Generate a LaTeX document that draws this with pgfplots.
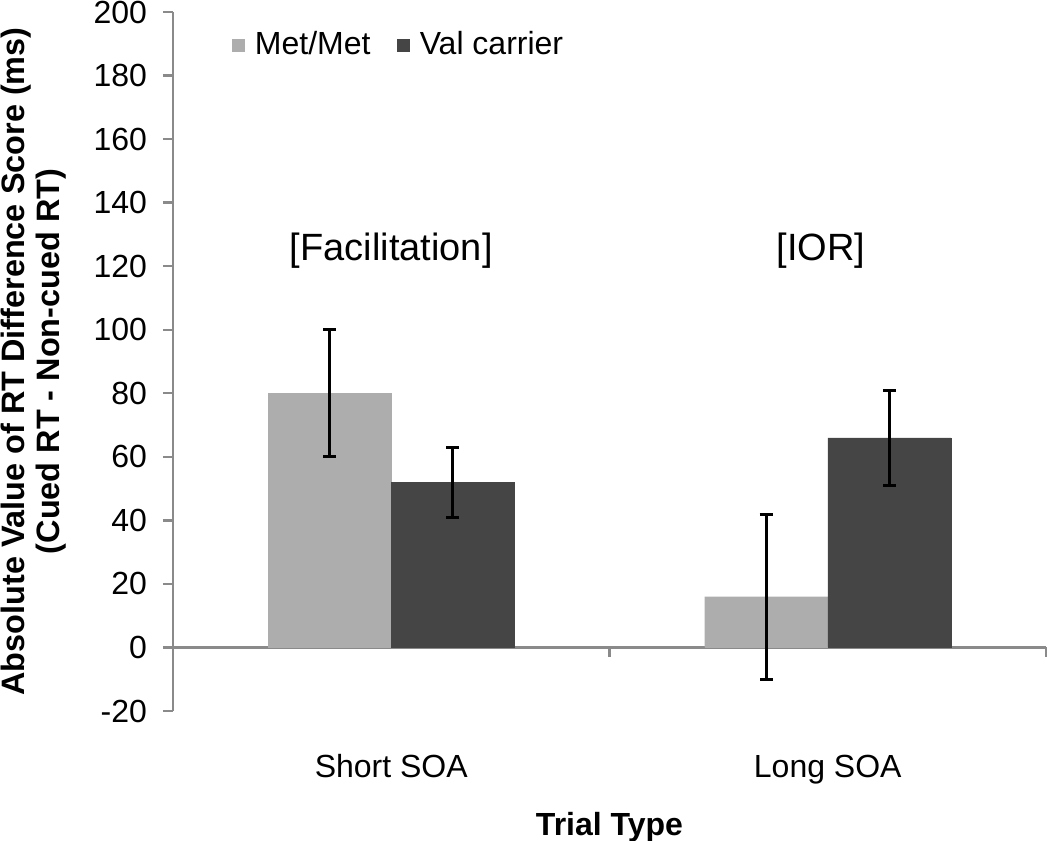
\documentclass[border=0pt]{standalone}
\usepackage{pgfplots}
\pgfplotsset{compat=1.18}
\usepackage{fontspec}
\setmainfont{Liberation Sans}
\definecolor{metc}{HTML}{ADADAD}
\definecolor{valc}{HTML}{454545}
\definecolor{axc}{HTML}{8A8A8A}
\begin{document}
\begin{tikzpicture}
\path[use as bounding box] (-86.5pt,-65pt) rectangle (438.5pt,355.5pt);
\begin{axis}[
  scale only axis, width=436.5pt, height=349.5pt,
  xmin=-0.5, xmax=1.5, ymin=-20, ymax=200,
  ytick={-20,0,...,200},
  xtick={0,1}, xticklabels={Short SOA, Long SOA},
  axis y line*=left, axis x line*=bottom,
  x axis line style={draw=none},
  y axis line style={draw=axc, line width=1.2pt, -},
  xtick style={draw=none},
  ytick style={draw=axc, line width=1.2pt},
  major tick length=5pt, tick align=outside,
  /pgf/number format/assume math mode=true,
  tick label style={font=\fontsize{16}{19}\selectfont},
  yticklabel style={xshift=-4.5pt},
  xticklabel style={anchor=base, yshift=-28pt},
  xlabel={Trial Type},
  xlabel style={at={(axis description cs:0.5,-0.166)}, anchor=center, font=\bfseries\fontsize{16}{19}\selectfont},
  ylabel={Absolute Value of RT Difference Score (ms)\\(Cued RT - Non-cued RT)},
  ylabel style={at={(axis description cs:-0.160,0.5)}, anchor=center, align=center, font=\bfseries\fontsize{16.2}{17.5}\selectfont},
  ybar=0pt, bar width=0.282,
  clip=false,
  legend style={draw=none, fill=none, at={(0.06,0.953)}, anchor=west, legend columns=2,
    font=\fontsize{16}{19}\selectfont,
    /tikz/every odd column/.append style={column sep=3.5pt},
    /tikz/every even column/.append style={column sep=11pt}},
  legend image code/.code={\fill[#1] (0pt,-3pt) rectangle (6pt,3pt);},
  error bars/error bar style={black, line width=1.5pt},
  error bars/error mark options={draw=black, solid, line width=1.5pt, mark size=3.25pt, rotate=90},
]
\draw[axc, line width=1.2pt] (axis cs:-0.5,0) -- (axis cs:1.5,0);
\draw[axc, line width=1.2pt] (axis cs:0.5,0) -- ++(0pt,-5pt);
\draw[axc, line width=1.2pt] (axis cs:1.5,0) -- ++(0pt,-5pt);
\addplot[fill=metc, draw=metc, line width=0.1pt, error bars/.cd, y dir=both, y explicit]
  table[x=x, y=y, y error=e] {
x y e
0 80 20
1 16 26
};
\addplot[fill=valc, draw=valc, line width=0.1pt, error bars/.cd, y dir=both, y explicit]
  table[x=x, y=y, y error=e] {
x y e
0 52 11
1 66 15
};
\legend{Met/Met, Val carrier}
\node[font=\fontsize{19}{22}\selectfont] at (axis cs:0.0,125) {[Facilitation]};
\node[font=\fontsize{19}{22}\selectfont] at (axis cs:0.985,125) {[IOR]};
\end{axis}
\end{tikzpicture}
\end{document}
